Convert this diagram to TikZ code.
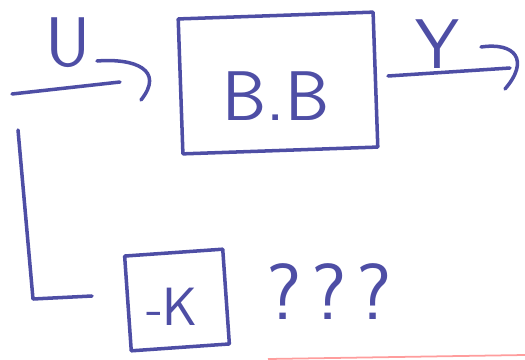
\documentclass[tikz,border=0pt]{standalone}
\usepackage{tikz}
\usetikzlibrary{positioning,calc}
\definecolor{inkblue}{RGB}{78,78,165}

\tikzset{
  ink/.style={draw=inkblue, line width=3pt, line cap=round, line join=round},
  box/.style={ink, rectangle, inner sep=0pt},
  hand/.style={text=inkblue, font=\sffamily\fontsize{#1}{#1}\selectfont, inner sep=0pt}
}

\begin{document}
\begin{tikzpicture}[x=0.03cm, y=-0.03cm]
        \useasboundingbox (0,0) rectangle (525,360);

        % blocks
        \node[box, minimum width=5.85cm, minimum height=4.05cm, rotate=2] (bb) at (278,83) {};
        \node[hand=60] (bbtext) at (276,96) {B.B};
        \node[box, minimum width=2.95cm, minimum height=2.85cm, rotate=4] (k) at (177,300) {};
        \node[hand=46] (ktext) at (172,307) {-K};
        \node[hand=68] (what) at (329,292) {?\hspace{0.12em}?\hspace{0.12em}?};

        % signals
        \coordinate (uin) at (12,94);
        \coordinate (uend) at (120,82);
        \coordinate (yout) at (388,76);
        \coordinate (yend) at (510,68);
        \draw[ink] (uin) -- (uend);
        \draw[ink] (yout) -- (yend);
        \node[hand=60] (ulabel) at (68,43) {U};
        \node[hand=60] (ylabel) at (437,44) {Y};
        \draw[ink] (97,61) .. controls (135,58) and (165,70) .. (141,100);
        \draw[ink] (481,47) .. controls (515,42) and (530,60) .. (505,89);

        % feedback
        \coordinate (fbtop) at (18,130);
        \coordinate (fbcorner) at (33,299);
        \coordinate (fbend) at (92,296);
        \draw[ink] (fbtop) -- (fbcorner) -- (fbend);

        % stray red stroke at the edge
        \draw[red!55, line width=1.5pt, opacity=0.7] (268,359) -- (525,355);
\end{tikzpicture}
\end{document}
